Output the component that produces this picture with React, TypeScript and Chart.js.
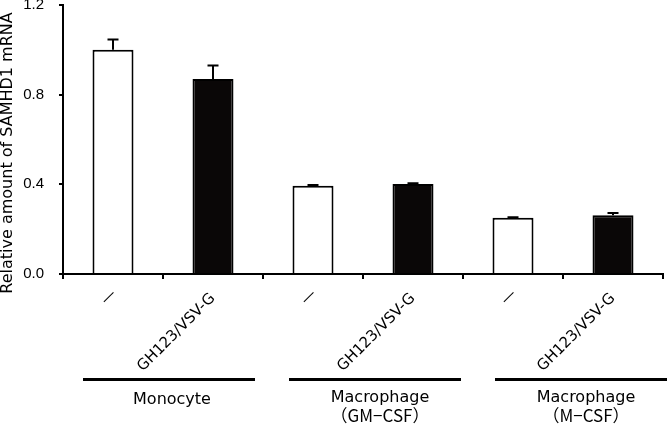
import React, { useEffect, useRef } from "react";
import { Chart, registerables } from "chart.js";

Chart.register(...registerables);

const categories = ["—", "GH123/VSV-G", "—", "GH123/VSV-G", "—", "GH123/VSV-G"];
const values = [1.0, 0.87, 0.394, 0.402, 0.251, 0.262];
const errors = [0.046, 0.06, 0.003, 0.003, 0.002, 0.01];
const barFills = ["#ffffff", "#0a0707", "#ffffff", "#0a0707", "#ffffff", "#0a0707"];
const groupLabels = [["Monocyte"], ["Macrophage", "（GM−CSF）"], ["Macrophage", "（M−CSF）"]];
const yTickValues = [0, 0.4, 0.8, 1.2];
const yTitle = "Relative amount of SAMHD1 mRNA";

const annotPlugin = {
  id: "annot",
  afterDatasetsDraw(chart: any) {
    const ctx = chart.ctx;
    const meta = chart.getDatasetMeta(0);
    const ys = chart.scales.y;
    ctx.save();
    ctx.strokeStyle = "#000";
    ctx.lineWidth = 2;
    meta.data.forEach((el: any, i: number) => {
      const yBar = ys.getPixelForValue(values[i]);
      const yTop = ys.getPixelForValue(values[i] + errors[i]);
      ctx.beginPath();
      ctx.moveTo(el.x, yBar);
      ctx.lineTo(el.x, yTop);
      ctx.moveTo(el.x - 5.5, yTop);
      ctx.lineTo(el.x + 5.5, yTop);
      ctx.stroke();
    });
    ctx.restore();
  },
  afterDraw(chart: any) {
    const ctx = chart.ctx;
    const xs = chart.scales.x;
    const area = chart.chartArea;
    ctx.save();
    ctx.fillStyle = "#000";
    // rotated category labels
    ctx.font = '15px "DejaVu Sans", "Noto Sans CJK JP"';
    categories.forEach((lab, i) => {
      const x = xs.getPixelForValue(i);
      const isDash = lab === "—";
      ctx.save();
      ctx.translate(x + (isDash ? 1 : 0), area.bottom + (isDash ? 18 : 22));
      ctx.rotate(-Math.PI / 4);
      ctx.textAlign = "right";
      ctx.textBaseline = "middle";
      ctx.fillText(lab, 0, 0);
      ctx.restore();
    });
    // group lines and labels
    const step = xs.getPixelForValue(1) - xs.getPixelForValue(0);
    ctx.textAlign = "center";
    ctx.textBaseline = "alphabetic";
    groupLabels.forEach((lines, gi) => {
      const c0 = (xs.getPixelForValue(gi * 2) + xs.getPixelForValue(gi * 2 + 1)) / 2;
      const cx = area.left + (c0 - area.left) * 1.03 + 3;
      const half = step * 0.86;
      ctx.fillRect(cx - half, area.bottom + 104, 2 * half, 3);
      ctx.font = '16px "DejaVu Sans", "Noto Sans CJK JP"';
      if (lines.length === 1) {
        ctx.fillText(lines[0], cx + 3, area.bottom + 130);
      } else {
        ctx.fillText(lines[0], cx + 5, area.bottom + 128);
        ctx.font = '17px "Noto Sans CJK JP"';
        ctx.fillText(lines[1], cx + 5, area.bottom + 148);
      }
    });
    // y title
    ctx.font = '16px "DejaVu Sans"';
    ctx.save();
    ctx.translate(8, (area.top + area.bottom) / 2 + 13.5);
    ctx.rotate(-Math.PI / 2);
    ctx.textAlign = "center";
    ctx.textBaseline = "middle";
    ctx.fillText(yTitle, 0, 0);
    ctx.restore();
    ctx.restore();
  },
};

export default function App() {
  const ref = useRef<HTMLCanvasElement>(null);
  useEffect(() => {
    if (!ref.current) return;
    const chart = new Chart(ref.current, {
      type: "bar",
      data: {
        labels: categories,
        datasets: [
          {
            data: values,
            backgroundColor: barFills,
            borderColor: "#000",
            borderWidth: 2,
            barPercentage: 0.41,
            categoryPercentage: 1,
          },
        ],
      },
      options: {
        responsive: false,
        animation: false,
        layout: { padding: { top: 5, right: 4, left: 0, bottom: 0 } },
        plugins: { legend: { display: false }, tooltip: { enabled: false } },
        scales: {
          x: {
            offset: true,
            grid: { display: true, drawOnChartArea: false, tickLength: 5, color: "#000", lineWidth: 2, offset: true },
            border: { display: true, color: "#000", width: 2 },
            ticks: { display: false },
            afterFit: (s: any) => {
              s.height = 152;
              s.paddingLeft = 0;
              s.paddingRight = 0;
            },
          },
          y: {
            min: 0,
            max: 1.2,
            afterBuildTicks: (s: any) => {
              s.ticks = yTickValues.map((v) => ({ value: v }));
            },
            ticks: {
              font: { family: '"Liberation Sans", Arial', size: 15 },
              color: "#000",
              padding: 15,
              callback: (v: any) => Number(v).toFixed(1),
            },
            grid: { display: true, drawOnChartArea: false, tickLength: 4, color: "#000", lineWidth: 2 },
            border: { display: true, color: "#000", width: 2 },
            afterFit: (s: any) => {
              s.width = 63;
              s.paddingTop = 0;
              s.paddingBottom = 0;
            },
          },
        },
      },
      plugins: [annotPlugin],
    });
    return () => chart.destroy();
  }, []);
  return (
    <div style={{ position: "absolute", left: 0, top: 0, width: 667, height: 426, background: "#fff" }}>
      <canvas ref={ref} width={667} height={426} />
    </div>
  );
}
